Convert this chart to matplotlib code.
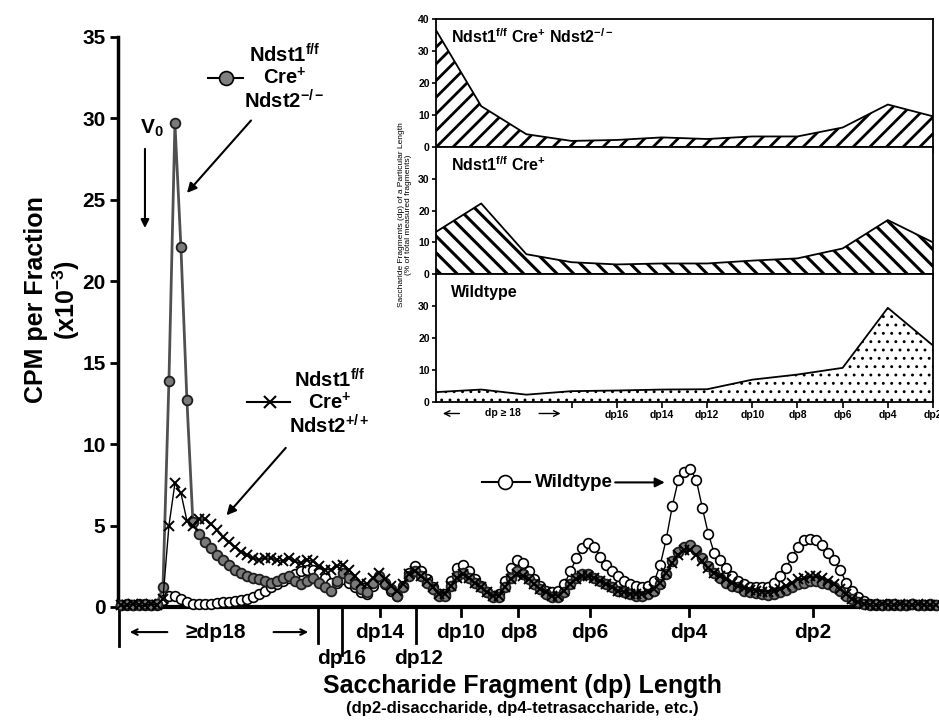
import numpy as np
import matplotlib
matplotlib.use('Agg')
import matplotlib.pyplot as plt

plt.rcParams['font.family'] = ['Liberation Sans', 'DejaVu Sans']
plt.rcParams['font.weight'] = 'bold'
plt.rcParams['mathtext.fontset'] = 'custom'
plt.rcParams['mathtext.rm'] = 'Liberation Sans:bold'
plt.rcParams['mathtext.it'] = 'Liberation Sans:bold'
plt.rcParams['mathtext.bf'] = 'Liberation Sans:bold'

# main chromatogram, one value per fraction (CPM x10^-3)
dko = [0.1, 0.2, 0.1, 0.1, 0.2, 0.1, 0.2,
       1.2, 13.9, 29.7, 22.1, 12.7, 5.2,
       4.5, 4.0, 3.6, 3.2, 2.9, 2.6, 2.3, 2.1, 1.9, 1.8, 1.7, 1.6,
       1.5, 1.6, 1.8, 1.9, 1.6, 1.4, 1.6, 1.8, 1.5, 1.2, 1.0, 1.6,
       2.1, 1.8, 1.4, 1.1, 0.9, 1.5, 1.9, 1.5, 1.1, 0.7, 1.2, 1.9,
       2.2, 1.9, 1.5, 1.1, 0.7, 0.7, 1.3, 1.9, 2.1, 1.8, 1.5, 1.2,
       0.9, 0.6, 0.6, 1.2, 1.8, 2.2, 2.0, 1.7, 1.4, 1.1, 0.8, 0.6,
       0.6, 0.9, 1.4, 1.8, 2.0, 2.0, 1.8, 1.6, 1.4, 1.2, 1.0, 0.9,
       0.8, 0.7, 0.7, 0.8, 1.0, 1.4, 2.0, 2.8, 3.4, 3.7, 3.8, 3.5,
       3.0, 2.5, 2.1, 1.8, 1.5, 1.3, 1.2, 1.0, 0.9, 0.85, 0.8, 0.75,
       0.8, 0.9, 1.05, 1.25, 1.4, 1.5, 1.6, 1.6, 1.5, 1.4, 1.2, 1.0,
       0.7, 0.5, 0.3, 0.2,
       0.1, 0.2, 0.1, 0.1, 0.2, 0.1, 0.1, 0.2, 0.1, 0.1, 0.2, 0.1]

ko1 = [0.1, 0.1, 0.2, 0.1, 0.1, 0.2, 0.1,
       0.5, 5.0, 7.6, 7.0, 5.3, 5.0,
       5.4, 5.4, 5.1, 4.7, 4.3, 4.0, 3.7, 3.4, 3.2, 3.0, 2.9, 3.0,
       3.0, 2.9, 2.8, 3.0, 2.8, 2.7, 2.9, 2.8, 2.5, 2.3, 2.3, 2.5,
       2.6, 2.3, 1.9, 1.5, 1.4, 1.8, 2.1, 1.7, 1.3, 1.0, 1.4, 2.0,
       2.2, 1.9, 1.6, 1.2, 0.8, 0.8, 1.3, 1.8, 2.0, 1.8, 1.5, 1.2,
       0.9, 0.7, 0.7, 1.2, 1.7, 2.0, 1.9, 1.7, 1.4, 1.1, 0.9, 0.7,
       0.7, 1.0, 1.4, 1.7, 1.9, 1.9, 1.8, 1.6, 1.4, 1.2, 1.0, 0.9,
       0.8, 0.8, 0.8, 0.9, 1.1, 1.5, 2.1, 2.7, 3.2, 3.5, 3.5, 3.2,
       2.8, 2.4, 2.1, 1.9, 1.7, 1.5, 1.3, 1.15, 1.05, 1.0, 0.95, 0.95,
       1.0, 1.1, 1.3, 1.5, 1.7, 1.8, 1.9, 1.9, 1.8, 1.6, 1.4, 1.1,
       0.8, 0.5, 0.3, 0.2,
       0.1, 0.1, 0.2, 0.1, 0.1, 0.2, 0.1, 0.1, 0.2, 0.1, 0.1, 0.1]

wt = [0.1, 0.1, 0.1, 0.2, 0.1, 0.1, 0.1,
      0.4, 0.7, 0.7, 0.5, 0.3, 0.2,
      0.2, 0.2, 0.2, 0.25, 0.3, 0.3, 0.35, 0.4, 0.5, 0.6, 0.8, 1.0,
      1.2, 1.4, 1.6, 1.8, 2.0, 2.2, 2.3, 2.3, 2.1, 1.8, 1.5, 1.5,
      1.7, 1.5, 1.2, 0.9, 0.8, 1.3, 1.7, 1.4, 1.0, 0.7, 1.3, 2.1,
      2.5, 2.2, 1.7, 1.2, 0.8, 0.8, 1.6, 2.4, 2.6, 2.2, 1.7, 1.3,
      0.9, 0.7, 0.8, 1.6, 2.4, 2.9, 2.7, 2.2, 1.7, 1.3, 1.0, 0.9,
      1.0, 1.4, 2.2, 3.0, 3.6, 3.9, 3.7, 3.1, 2.6, 2.2, 1.9, 1.6,
      1.4, 1.3, 1.2, 1.3, 1.6, 2.6, 4.2, 6.2, 7.8, 8.3, 8.5, 7.8,
      6.1, 4.5, 3.3, 2.9, 2.4, 1.9, 1.6, 1.4, 1.25, 1.2, 1.2, 1.25,
      1.45, 1.9, 2.4, 3.1, 3.7, 4.1, 4.2, 4.1, 3.8, 3.3, 2.9, 2.3,
      1.5, 1.0, 0.6, 0.35,
      0.2, 0.1, 0.1, 0.2, 0.1, 0.1, 0.1, 0.2, 0.1, 0.1, 0.1, 0.1]

fractions = np.arange(len(dko))

# fraction positions of the dp size marks under the axis
dp_lines = [-0.3, 32.8, 36.8, 49.2]
dp_line_len = [0.068, 0.063, 0.085, 0.063]
dp_ticks = [43.2, 56.7, 66.3, 78.2, 94.8, 115.5]
dp_tick_labels = ['dp14', 'dp10', 'dp8', 'dp6', 'dp4', 'dp2']
dp_low_pos = [36.8, 49.7]
dp_low_labels = ['dp16', 'dp12']

# inset: % of total fragments per size class
size_pos = np.arange(12)
size_labels = ['', '', '', '', 'dp16', 'dp14', 'dp12', 'dp10', 'dp8', 'dp6', 'dp4', 'dp2']
pct_dko = [36.5, 12.7, 3.9, 1.8, 2.1, 2.9, 2.4, 3.2, 3.2, 6.0, 13.2, 9.5]
pct_ko1 = [13.3, 22.2, 6.3, 3.8, 3.1, 3.4, 3.4, 4.3, 5.0, 8.1, 17.0, 10.0]
pct_wt = [3.1, 3.9, 2.3, 3.4, 3.6, 3.9, 4.0, 7.0, 8.6, 10.7, 29.5, 17.7]

W, H = 939, 722
fig = plt.figure(figsize=(W / 100, H / 100), dpi=100)
ax = fig.add_axes([118 / W, 1 - 607 / H, 821 / W, 570 / H])

ax.plot(fractions, wt, '-', color='black', lw=1, marker='o', ms=7,
        mfc='white', mec='black', mew=1.2, clip_on=False, zorder=3)
ax.plot(fractions, dko, '-', color='#505050', lw=2, marker='o', ms=7,
        mfc='#7a7a7a', mec='#1e1e1e', mew=1.3, clip_on=False, zorder=4)
ax.plot(fractions, ko1, '-', color='black', lw=1, marker='x', ms=7,
        mew=1.4, clip_on=False, zorder=5)

ax.set_xlim(-0.5, 136.5)
ax.set_ylim(0, 35)
ax.set_yticks(np.arange(0, 36, 5))
ax.set_xticks([])
ax.tick_params(axis='y', direction='out', length=6, width=2, labelsize=15, pad=3)
for lab in ax.get_yticklabels():
    lab.set_fontweight('bold')
ax.spines['top'].set_visible(False)
ax.spines['right'].set_visible(False)
ax.spines['left'].set_linewidth(2.5)
ax.spines['bottom'].set_linewidth(3)

trans = ax.get_xaxis_transform()
for x, ln in zip(dp_lines, dp_line_len):
    ax.plot([x, x], [0, -ln], color='black', lw=2, transform=trans, clip_on=False)
for x in dp_ticks:
    ax.plot([x, x], [0, -0.016], color='black', lw=2, transform=trans, clip_on=False)
for x, t in zip(dp_ticks, dp_tick_labels):
    ax.text(x, -0.044, t, transform=trans, ha='center', va='center', fontsize=15)
for x, t in zip(dp_low_pos, dp_low_labels):
    ax.text(x, -0.09, t, transform=trans, ha='center', va='center', fontsize=15)
ax.text(15.8, -0.044, '≥dp18', transform=trans, ha='center', va='center', fontsize=15)
ax.annotate('', xy=(1.0, -0.044), xytext=(8.2, -0.044), xycoords=trans,
            arrowprops=dict(arrowstyle='->', lw=1.5, color='black'))
ax.annotate('', xy=(31.7, -0.044), xytext=(25.0, -0.044), xycoords=trans,
            arrowprops=dict(arrowstyle='->', lw=1.5, color='black'))

# annotations
ax.text(5.2, 29.4, r'V$_0$', ha='center', va='center', fontsize=15)
ax.annotate('', xy=(4.0, 23.1), xytext=(4.0, 28.3),
            arrowprops=dict(arrowstyle='-|>', lw=1.5, color='black', mutation_scale=12))

ax.plot([14.5, 20.3], [32.5, 32.5], color='black', lw=1.5, clip_on=False)
ax.plot([17.5], [32.5], 'o', ms=10, mfc='#808080', mec='black', mew=1.2, clip_on=False)
ax.text(27.3, 32.5, 'Ndst1$^{f/f}$\nCre$^{+}$\nNdst2$^{-/-}$', ha='center', va='center',
        fontsize=14.5, linespacing=1.05)
ax.annotate('', xy=(10.7, 25.3), xytext=(22.0, 30.0),
            arrowprops=dict(arrowstyle='-|>', lw=1.5, color='black', mutation_scale=14))

ax.plot([21.0, 28.2], [12.6, 12.6], color='black', lw=1.5, clip_on=False)
ax.plot([24.8], [12.6], 'x', ms=9, mec='black', mew=1.5, clip_on=False)
ax.text(34.8, 12.55, 'Ndst1$^{f/f}$\nCre$^{+}$\nNdst2$^{+/+}$', ha='center', va='center',
        fontsize=14.5, linespacing=1.05)
ax.annotate('', xy=(17.3, 5.5), xytext=(27.8, 9.9),
            arrowprops=dict(arrowstyle='-|>', lw=1.5, color='black', mutation_scale=14))

ax.plot([60.3, 68.2], [7.65, 7.65], color='black', lw=1.5, clip_on=False)
ax.plot([64.0], [7.65], 'o', ms=10, mfc='white', mec='black', mew=1.2, clip_on=False)
ax.text(69.0, 7.65, 'Wildtype', ha='left', va='center', fontsize=13.5)
ax.annotate('', xy=(91.2, 7.65), xytext=(82.0, 7.65),
            arrowprops=dict(arrowstyle='-|>', lw=1.5, color='black', mutation_scale=14))

fig.text(53 / W, 1 - 300 / H, 'CPM per Fraction\n(x10$^{-3}$)', rotation=90,
         ha='center', va='center', fontsize=18, multialignment='center', linespacing=1.1)
fig.text(522 / W, 1 - 686 / H, 'Saccharide Fragment (dp) Length', ha='center', va='center',
         fontsize=18)
fig.text(522 / W, 1 - 709 / H, '(dp2-disaccharide, dp4-tetrasaccharide, etc.)', ha='center',
         va='center', fontsize=12)

# inset panels
ph = (402 - 19) / 3 / H
il = 436 / W
iw = 497 / W
ib = 1 - 402 / H
panels = [
    (pct_dko, '//', 2.0, r'Ndst1$^{f/f}$ Cre$^{+}$ Ndst2$^{-/-}$', ib + 2 * ph),
    (pct_ko1, '\\\\', 2.2, r'Ndst1$^{f/f}$ Cre$^{+}$', ib + ph),
    (pct_wt, '..', 0.9, 'Wildtype', ib),
]
for i, (vals, hatch, hlw, name, bot) in enumerate(panels):
    a = fig.add_axes([il, bot, iw, ph])
    a.set_facecolor('white')
    with plt.rc_context({'hatch.linewidth': hlw}):
        poly = a.fill_between(size_pos, vals, 0, facecolor='white', edgecolor='black',
                              hatch=hatch, linewidth=0)
    if hasattr(poly, 'set_hatch_linewidth'):
        poly.set_hatch_linewidth(hlw)
    a.plot(size_pos, vals, color='black', lw=1.3)
    a.set_xlim(0, 11)
    a.set_ylim(0, 40)
    a.set_yticks([0, 10, 20, 30, 40] if i == 0 else [0, 10, 20, 30])
    a.set_xticks(size_pos[3:])
    if i == 2:
        a.set_xticklabels(size_labels[3:])
    else:
        a.set_xticklabels([])
    a.tick_params(axis='x', direction='out', length=4, width=1.2, labelsize=7.5, pad=2)
    a.tick_params(axis='y', direction='out', length=3, width=1.2, labelsize=7.5, pad=1.5)
    for lab in a.get_xticklabels() + a.get_yticklabels():
        lab.set_fontweight('bold')
    for s in a.spines.values():
        s.set_linewidth(1.3)
    a.text(0.031, 0.86, name, transform=a.transAxes, ha='left', va='center', fontsize=11.5)
    if i == 2:
        t2 = a.get_xaxis_transform()
        a.text(1.49, -0.09, 'dp ≥ 18', transform=t2, ha='center', va='center', fontsize=7.5)
        a.annotate('', xy=(0.09, -0.09), xytext=(0.58, -0.09), xycoords=t2,
                   arrowprops=dict(arrowstyle='->', lw=1.0, color='black'))
        a.annotate('', xy=(2.82, -0.09), xytext=(2.22, -0.09), xycoords=t2,
                   arrowprops=dict(arrowstyle='->', lw=1.0, color='black'))

fig.text(405 / W, 1 - 215 / H,
         'Saccharide Fragments (dp) of a Particular Length\n(% of total measured fragments)',
         rotation=90, ha='center', va='center', fontsize=6, fontweight='normal',
         multialignment='center', linespacing=1.05)

fig.savefig('out.png', dpi=100)
